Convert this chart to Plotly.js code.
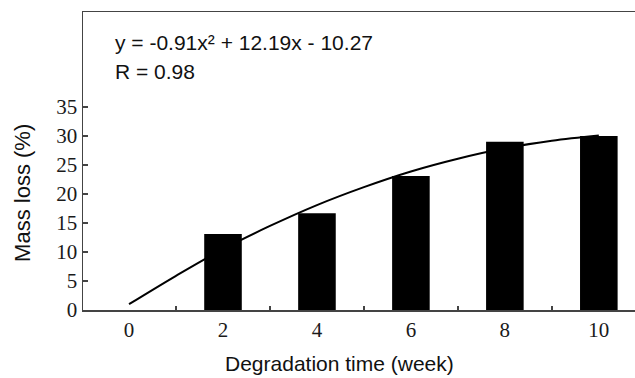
<!DOCTYPE html>
<html>
<head>
<meta charset="utf-8">
<script src="https://cdn.plot.ly/plotly-3.0.1.min.js"></script>
<style>html,body{margin:0;padding:0;background:#fff;overflow:hidden}#chart{width:635px;height:378px}</style>
</head>
<body>
<div id="chart"></div>
<script>
// Data
const weeks = [2, 4, 6, 8, 10];
const massLoss = [13.1, 16.7, 23.1, 29.0, 30.0];
const fitWeeks = [0, 1, 2, 3, 4, 5, 6, 7, 8, 9, 10];
const fitValues = [1.0, 5.9, 10.5, 14.5, 18.1, 21.2, 23.9, 26.1, 27.9, 29.2, 30.1];
const xTickVals = [0, 2, 4, 6, 8, 10];
const xTickText = ['0', '2', '4', '6', '8', '10'];
const xMinorTicks = [1, 3, 5, 7, 9];
const yTickVals = [0, 5, 10, 15, 20, 25, 30, 35];
const xTitle = 'Degradation time (week)';
const yTitle = 'Mass loss (%)';
const equationText = 'y = -0.91x² + 12.19x - 10.27';
const rText = 'R = 0.98';

const traces = [
  {
    type: 'bar', x: weeks, y: massLoss, width: 0.8,
    marker: {color: '#000', line: {width: 0}}, showlegend: false, hoverinfo: 'skip'
  },
  {
    type: 'scatter', mode: 'lines', x: fitWeeks, y: fitValues,
    line: {color: '#000', width: 2, shape: 'spline'}, showlegend: false, hoverinfo: 'skip'
  }
];

const serif = 'Liberation Serif, Times New Roman, serif';
const sans = 'Liberation Sans, Arial, sans-serif';

const layout = {
  width: 635, height: 378,
  margin: {l: 83, r: 0, t: 12, b: 68},
  paper_bgcolor: '#fff', plot_bgcolor: '#fff',
  xaxis: {
    range: [-0.98, 10.77], showgrid: false, zeroline: false,
    showline: true, linecolor: '#444', linewidth: 1.5, mirror: true,
    tickmode: 'array', tickvals: xTickVals, ticktext: xTickText, ticks: '',
    minor: {tickmode: 'array', tickvals: xMinorTicks, ticks: 'inside', ticklen: 4, tickcolor: '#444', tickwidth: 1.5, showgrid: false},
    tickfont: {family: serif, size: 21, color: '#1a1a1a'}
  },
  yaxis: {
    range: [0, 51.4], showgrid: false, zeroline: false,
    showline: true, linecolor: '#444', linewidth: 1.5, mirror: false,
    tickmode: 'array', tickvals: yTickVals, ticks: 'inside', ticklen: 5, tickcolor: '#444', tickwidth: 1.5,
    tickfont: {family: serif, size: 21, color: '#1a1a1a'}
  },
  annotations: [
    {xref: 'paper', yref: 'paper', x: 0.054, y: 0.899, xanchor: 'left', yanchor: 'middle', showarrow: false,
     text: equationText, font: {family: sans, size: 21, color: '#111'}},
    {xref: 'paper', yref: 'paper', x: 0.054, y: 0.799, xanchor: 'left', yanchor: 'middle', showarrow: false,
     text: rText, font: {family: sans, size: 21, color: '#111'}},
    {xref: 'paper', yref: 'paper', x: -0.1087, y: 0.393, xanchor: 'center', yanchor: 'middle', showarrow: false,
     textangle: -90, text: yTitle, font: {family: sans, size: 22, color: '#111'}},
    {xref: 'paper', yref: 'paper', x: 0.465, y: -0.178, xanchor: 'center', yanchor: 'middle', showarrow: false,
     text: xTitle, font: {family: sans, size: 21, color: '#111'}}
  ]
};

Plotly.newPlot('chart', traces, layout, {staticPlot: true, displayModeBar: false});
</script>
</body>
</html>
